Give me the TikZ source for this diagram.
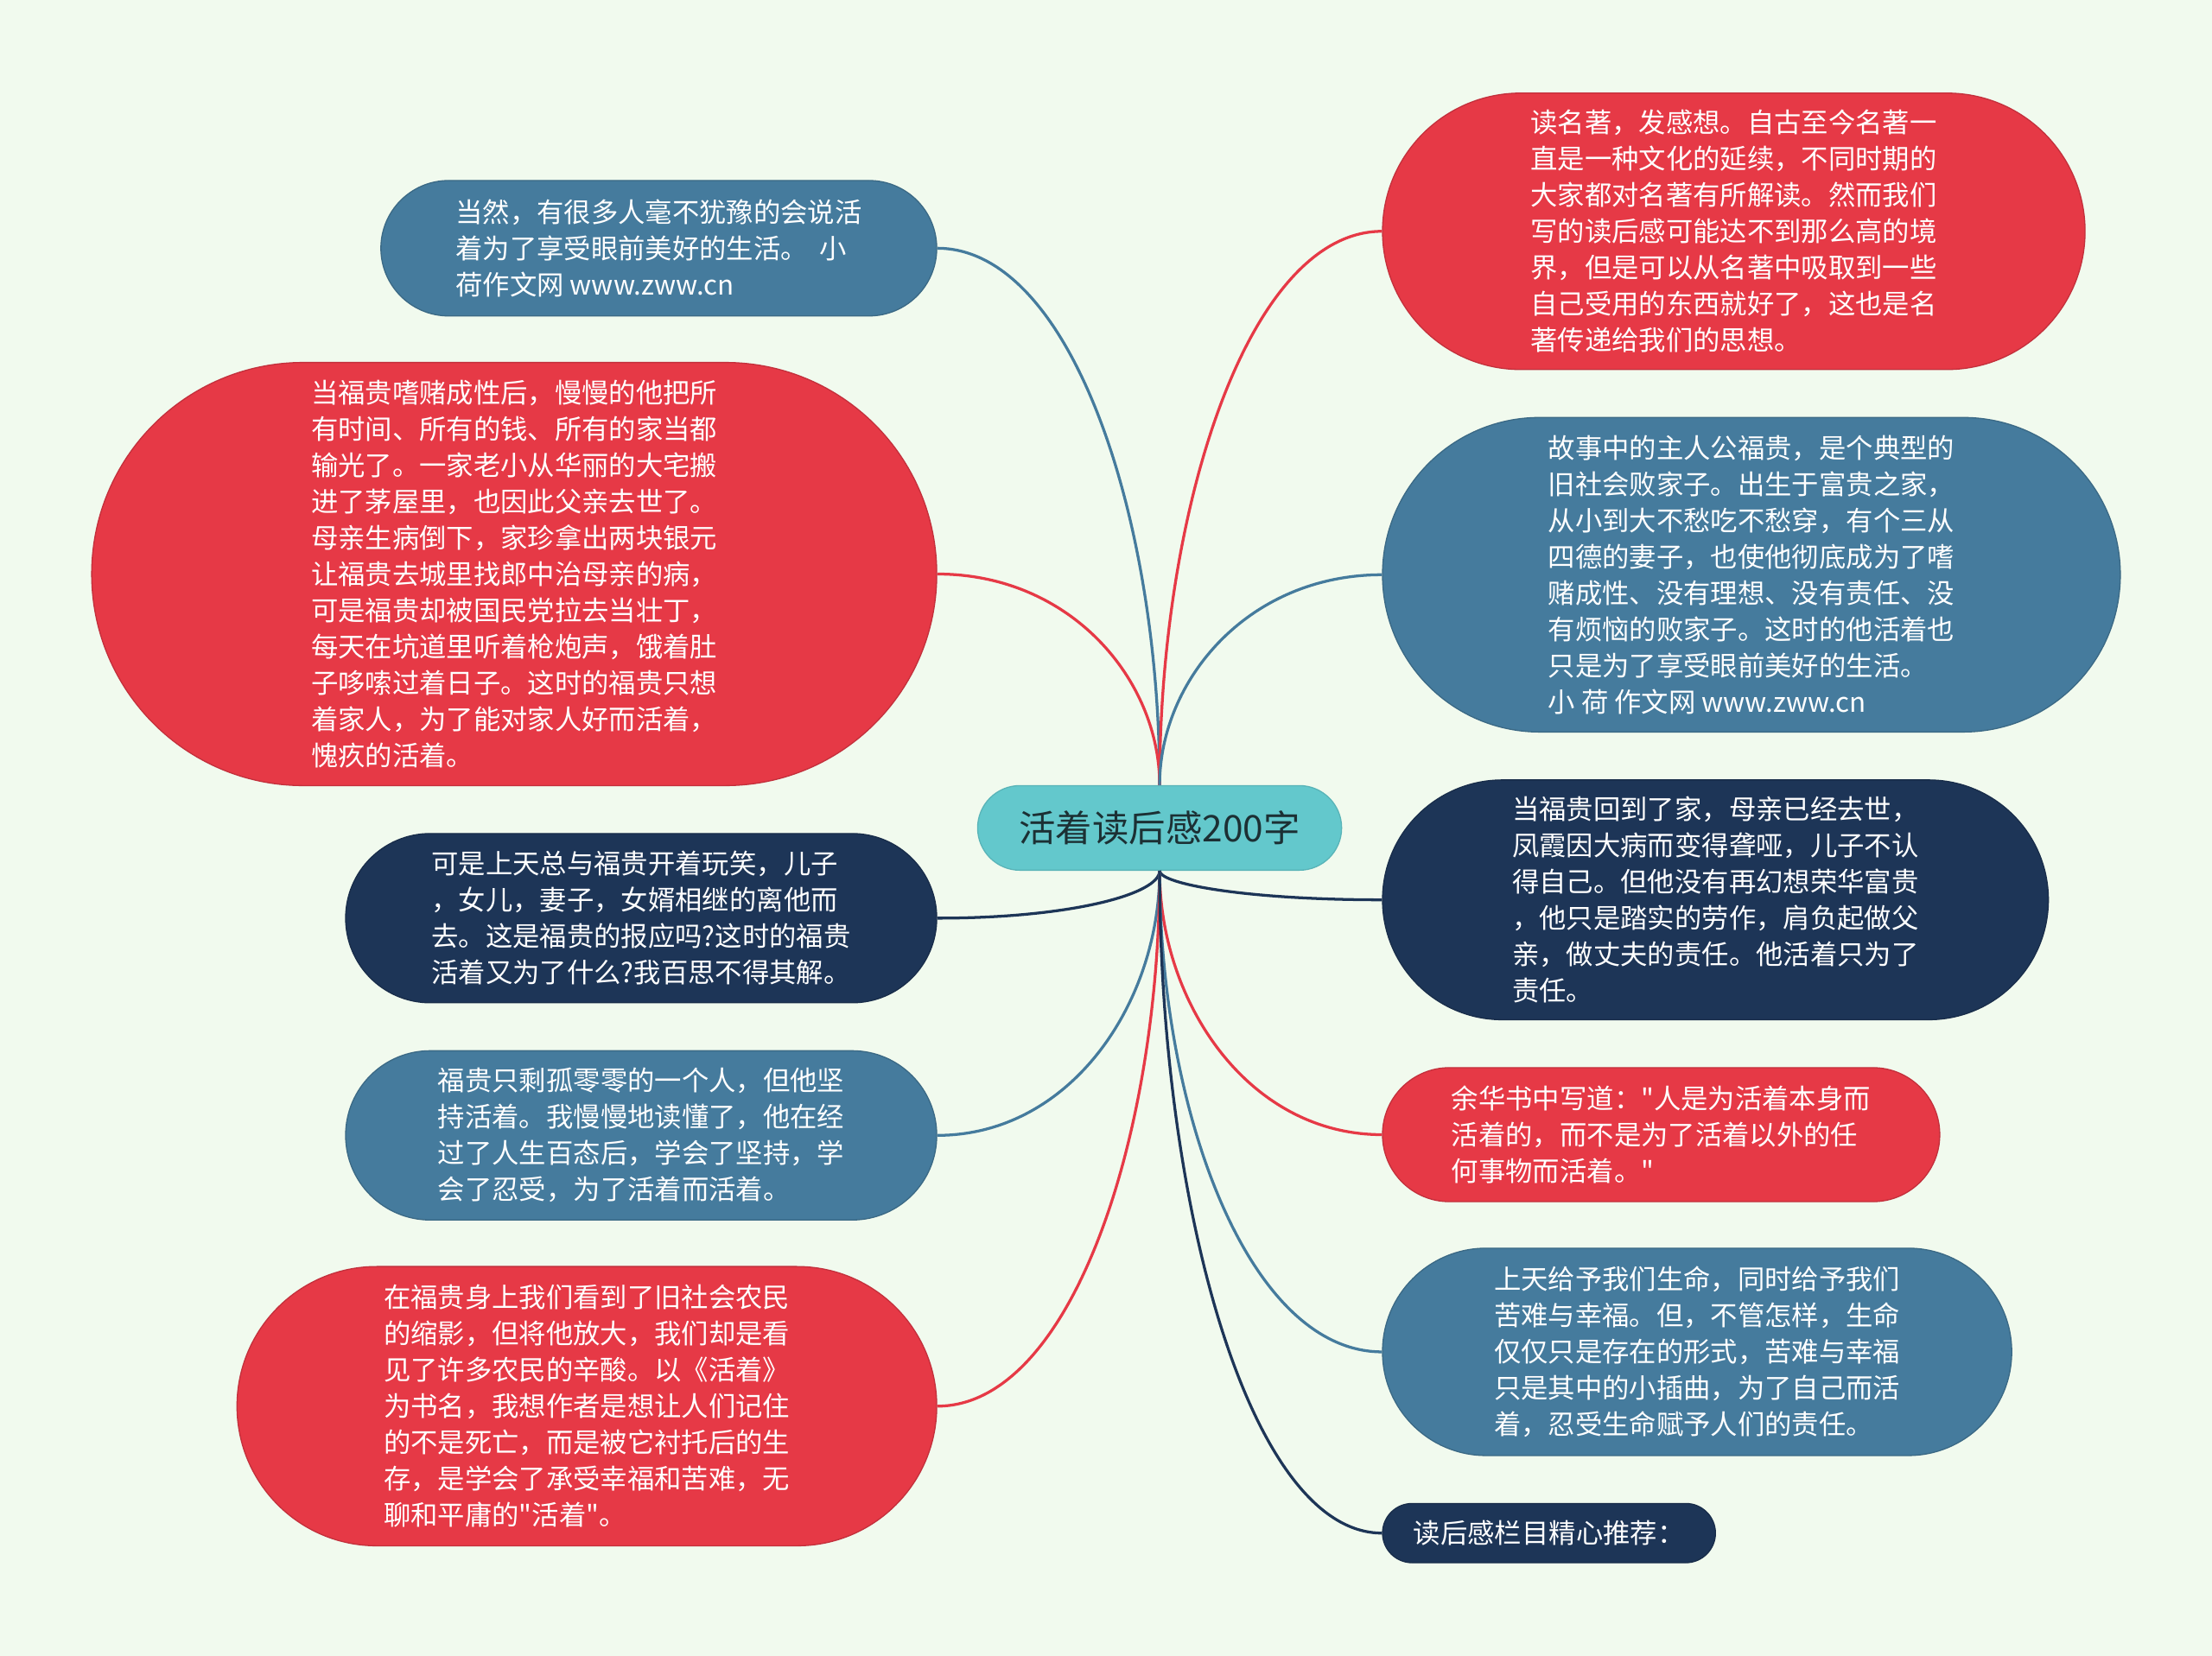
\documentclass[tikz,border=0pt]{standalone}
\usepackage{fontspec}
\newfontfamily\cjkfont{Noto Sans CJK SC}

\definecolor{bgmint}{RGB}{241,250,238}
\definecolor{redfill}{RGB}{230,57,70}
\definecolor{bluefill}{RGB}{69,123,157}
\definecolor{navyfill}{RGB}{29,53,87}
\definecolor{tealfill}{RGB}{99,200,204}
\definecolor{topictext}{RGB}{28,48,52}

\begin{document}
\begin{tikzpicture}[x=0.5pt, y=-0.5pt,
    every node/.style={font=\cjkfont\fontsize{9.6pt}{12.85pt}\selectfont, text=white, align=left, inner sep=0pt},
    redbox/.style={fill=redfill, draw=redfill!85!black, line width=0.4pt},
    bluebox/.style={fill=bluefill, draw=bluefill!85!black, line width=0.4pt},
    navybox/.style={fill=navyfill, draw=navyfill!85!black, line width=0.4pt},
    link/.style={line width=1pt}]
    \fill[bgmint] (0,0) rectangle (1568,1174);

    % centre
    \node[fill=tealfill, draw=tealfill!90!black, line width=0.4pt, text=topictext,
        font=\cjkfont\fontsize{13pt}{15pt}\selectfont,
        minimum width=129pt, minimum height=30pt, rounded corners=15pt] (topic) at (822,587) {活着读后感200字};

    % left side
    \node[bluebox, minimum width=197pt, minimum height=48pt, rounded corners=24pt] (enjoy) at (467,176)
        {当然，有很多人毫不犹豫的会说活\\着为了享受眼前美好的生活。\ \ 小\\荷作文网 www.zww.cn};
    \node[redbox, minimum width=299.5pt, minimum height=150pt, rounded corners=75pt] (gamble) at (364.5,407)
        {当福贵嗜赌成性后，慢慢的他把所\\有时间、所有的钱、所有的家当都\\输光了。一家老小从华丽的大宅搬\\进了茅屋里，也因此父亲去世了。\\母亲生病倒下，家珍拿出两块银元\\让福贵去城里找郎中治母亲的病，\\可是福贵却被国民党拉去当壮丁，\\每天在坑道里听着枪炮声，饿着肚\\子哆嗦过着日子。这时的福贵只想\\着家人，为了能对家人好而活着，\\愧疚的活着。};
    \node[navybox, minimum width=209.5pt, minimum height=60pt, rounded corners=30pt] (loss) at (454.5,651)
        {可是上天总与福贵开着玩笑，儿子\\，女儿，妻子，女婿相继的离他而\\去。这是福贵的报应吗?这时的福贵\\活着又为了什么?我百思不得其解。};
    \node[bluebox, minimum width=209.5pt, minimum height=60pt, rounded corners=30pt] (alone) at (454.5,805)
        {福贵只剩孤零零的一个人，但他坚\\持活着。我慢慢地读懂了，他在经\\过了人生百态后，学会了坚持，学\\会了忍受，为了活着而活着。};
    \node[redbox, minimum width=248pt, minimum height=99pt, rounded corners=49.5pt] (peasant) at (416,997)
        {在福贵身上我们看到了旧社会农民\\的缩影，但将他放大，我们却是看\\见了许多农民的辛酸。以《活着》\\为书名，我想作者是想让人们记住\\的不是死亡，而是被它衬托后的生\\存，是学会了承受幸福和苦难，无\\聊和平庸的"活着"。};

    % right side
    \node[redbox, minimum width=249pt, minimum height=98pt, rounded corners=49pt] (classic) at (1229,164)
        {读名著，发感想。自古至今名著一\\直是一种文化的延续，不同时期的\\大家都对名著有所解读。然而我们\\写的读后感可能达不到那么高的境\\界，但是可以从名著中吸取到一些\\自己受用的东西就好了，这也是名\\著传递给我们的思想。};
    \node[bluebox, minimum width=261.5pt, minimum height=111.5pt, rounded corners=55.7pt] (story) at (1241.5,407.5)
        {故事中的主人公福贵，是个典型的\\旧社会败家子。出生于富贵之家，\\从小到大不愁吃不愁穿，有个三从\\四德的妻子，也使他彻底成为了嗜\\赌成性、没有理想、没有责任、没\\有烦恼的败家子。这时的他活着也\\只是为了享受眼前美好的生活。\\小 荷 作文网 www.zww.cn};
    \node[navybox, minimum width=236pt, minimum height=85pt, rounded corners=42.5pt] (duty) at (1216,638)
        {当福贵回到了家，母亲已经去世，\\凤霞因大病而变得聋哑，儿子不认\\得自己。但他没有再幻想荣华富贵\\，他只是踏实的劳作，肩负起做父\\亲，做丈夫的责任。他活着只为了\\责任。};
    \node[redbox, minimum width=197.5pt, minimum height=47.5pt, rounded corners=23.7pt] (quote) at (1177.5,804.5)
        {余华书中写道："人是为活着本身而\\活着的，而不是为了活着以外的任\\何事物而活着。"};
    \node[bluebox, minimum width=223pt, minimum height=73.5pt, rounded corners=36.7pt] (fate) at (1203,958.5)
        {上天给予我们生命，同时给予我们\\苦难与幸福。但，不管怎样，生命\\仅仅只是存在的形式，苦难与幸福\\只是其中的小插曲，为了自己而活\\着，忍受生命赋予人们的责任。};
    \node[navybox, minimum width=118pt, minimum height=21pt, rounded corners=10.5pt] (more) at (1098,1087)
        {读后感栏目精心推荐：};

    % links
    \draw[link, bluefill] (topic.north) .. controls (822,366) and (759,176) .. (enjoy.east);
    \draw[link, redfill] (topic.north) .. controls (822,482) and (759,407) .. (gamble.east);
    \draw[link, navyfill] (topic.south) .. controls (822,634) and (759,651) .. (loss.east);
    \draw[link, bluefill] (topic.south) .. controls (822,711) and (759,805) .. (alone.east);
    \draw[link, redfill] (topic.south) .. controls (822,807) and (759,997) .. (peasant.east);
    \draw[link, redfill] (topic.north) .. controls (822,360) and (885,164) .. (classic.west);
    \draw[link, bluefill] (topic.north) .. controls (822,482) and (885,407.5) .. (story.west);
    \draw[link, navyfill] (topic.south) .. controls (822,627) and (885,638) .. (duty.west);
    \draw[link, redfill] (topic.south) .. controls (822,711) and (885,804.5) .. (quote.west);
    \draw[link, bluefill] (topic.south) .. controls (822,788) and (885,958.5) .. (fate.west);
    \draw[link, navyfill] (topic.south) .. controls (822,852) and (885,1087) .. (more.west);
\end{tikzpicture}
\end{document}
